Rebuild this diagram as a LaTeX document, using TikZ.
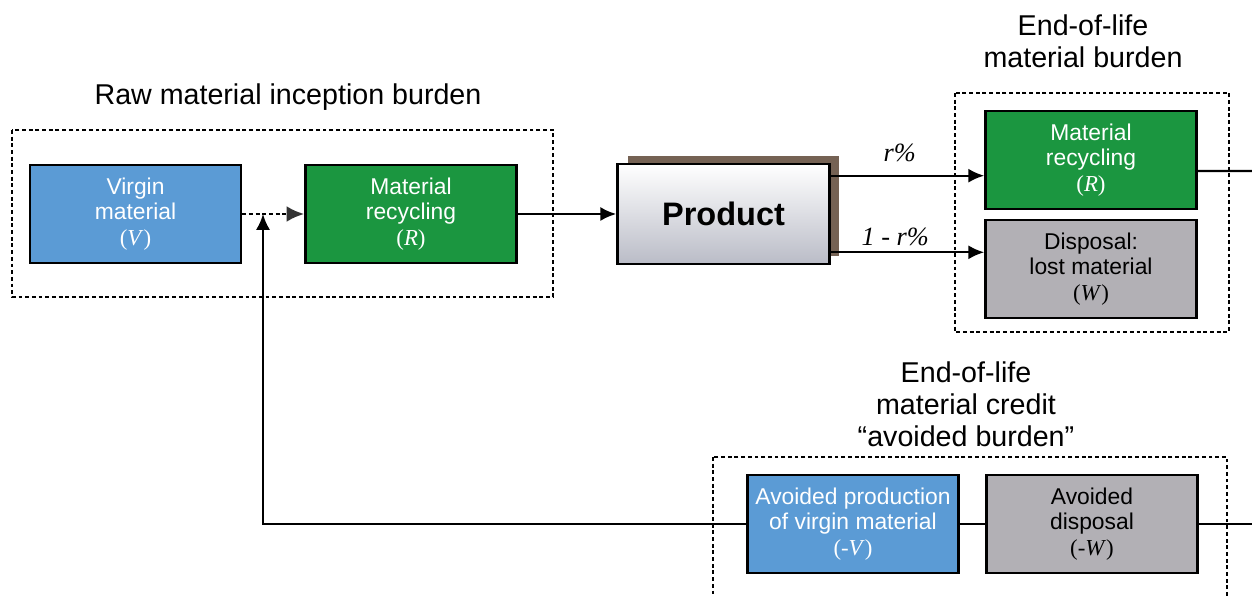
\documentclass[tikz,border=0pt]{standalone}
\usepackage{fontspec}
\setmainfont{Liberation Sans}
\newfontfamily\serifit{Liberation Serif}
\usetikzlibrary{arrows.meta,shadows}

\definecolor{virginblue}{RGB}{91,155,213}
\definecolor{recgreen}{RGB}{27,150,64}
\definecolor{lostgray}{RGB}{178,176,181}
\definecolor{shadowbrown}{RGB}{117,98,84}
\definecolor{prodgray}{RGB}{186,188,199}

\newcommand{\varlabel}[1]{{\serifit(#1)}}

\tikzset{
  box/.style={draw=black, line width=1.5pt, minimum width=4.22cm, minimum height=1.96cm,
    align=center, inner sep=0pt, font=\fontsize{13}{14.5}\selectfont},
  vbox/.style={box, fill=virginblue, text=white},
  rbox/.style={box, fill=recgreen, text=white},
  wbox/.style={box, fill=lostgray, text=black},
  frame/.style={line width=1.5pt, dash pattern=on 2.2pt off 1.6pt},
  arr/.style={line width=1.3pt, -{Latex[length=9pt,width=8pt]}},
  flow/.style={line width=1.3pt},
  heading/.style={align=center, font=\fontsize{16.3}{18.2}\selectfont},
  share/.style={inner sep=1pt, font=\serifit\itshape\fontsize{15}{17}\selectfont}
}

\begin{document}
\begin{tikzpicture}[x=0.02cm, y=-0.02cm]
  \useasboundingbox (0,0) rectangle (1252,597);
  \clip (0,0) rectangle (1252,597);

  % raw material inception burden
  \draw [frame] (12,130) rectangle (553,297);
  \node [heading] (rawtitle) at (288,97) {Raw material inception burden};
  \node [vbox] (virgin) at (135.5,214) {Virgin\\material\\\varlabel{\textit{V}}};
  \node [rbox] (recin) at (411,214) {Material\\recycling\\\varlabel{\textit{R}}};
  \coordinate (merge) at (263,214);

  \node [box, top color=white, bottom color=prodgray, minimum width=4.24cm, minimum height=2cm,
    font=\fontsize{18.5}{20}\selectfont\bfseries,
    general shadow={fill=shadowbrown, shadow xshift=0.2cm, shadow yshift=0.16cm}]
    (product) at (723.5,214) {Product};

  \draw [frame, -{Latex[length=10pt,width=9pt,color=black!80]}] (virgin) -- (recin);
  \draw [arr] (recin) -- (product);

  % end-of-life material burden
  \draw [frame] (955,93) rectangle (1229,332);
  \node [heading] (eoltitle) at (1083,41) {End-of-life\\material burden};
  \node [rbox] (recout) at (1091,160) {Material\\recycling\\\varlabel{\textit{R}}};
  \node [wbox] (lost) at (1091,269) {Disposal:\\lost material\\\varlabel{\textit{W}}};
  \coordinate (outR) at (1260,171);

  \draw [arr] ([yshift=-0.26cm]product.north east) -- node [share, above=6pt, pos=0.45] {r\%}
    ([yshift=-0.26cm]product.north east -| recout.west);
  \draw [arr] ([yshift=0.26cm]product.south east) -- node [share, above=2pt, pos=0.42] {1 - r\%}
    ([yshift=0.26cm]product.south east -| lost.west);
  \draw [flow] ([yshift=-0.22cm]recout.east) -- (outR);

  % end-of-life credit
  \draw [frame] (713,457) rectangle (1227,640);
  \node [heading] (credittitle) at (966,404.5) {End-of-life\\material credit\\“avoided burden”};
  \node [vbox] (avoidv) at (853,524) {Avoided production\\of virgin material\\\varlabel{-\textit{V}}};
  \node [wbox] (avoidw) at (1092,524) {Avoided\\disposal\\\varlabel{-\textit{W}}};
  \coordinate (outW) at (1260,524);

  \draw [flow] (avoidv) -- (avoidw);
  \draw [flow] (avoidw) -- (outW);
  \draw [arr] (avoidv) -| (merge);
\end{tikzpicture}
\end{document}
